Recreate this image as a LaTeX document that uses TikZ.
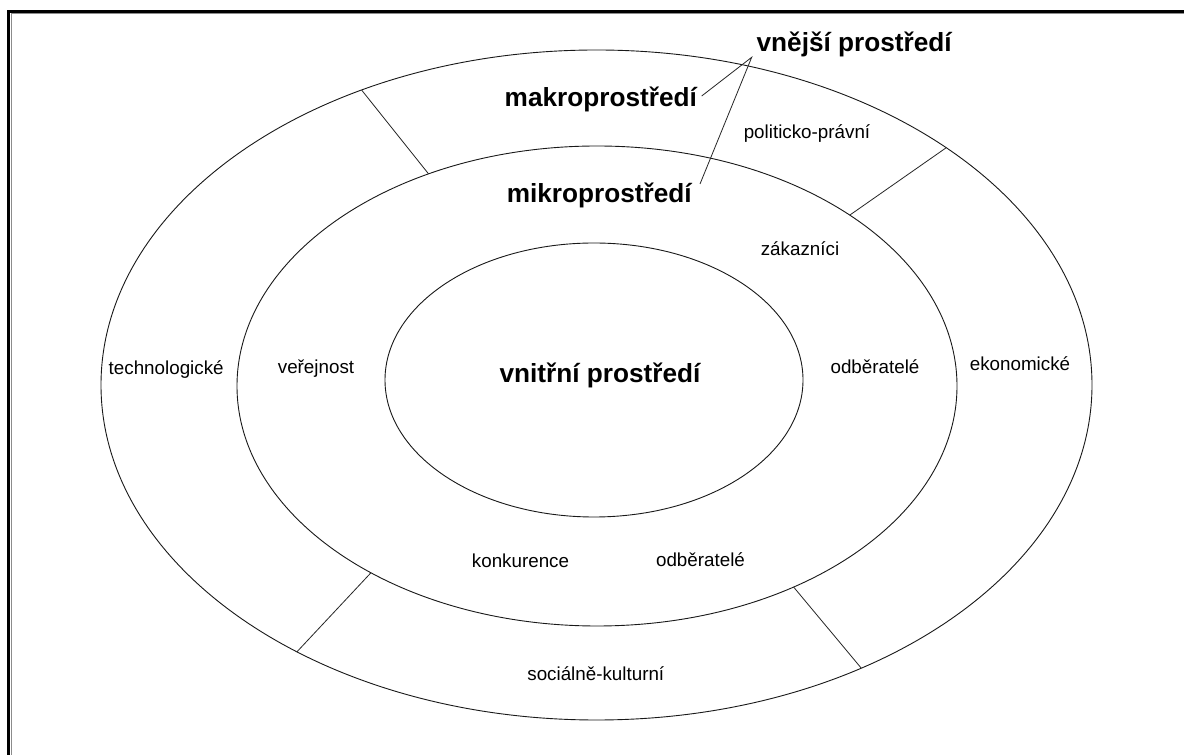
\documentclass[tikz,border=0pt]{standalone}
\usepackage{fontspec}
\setmainfont{Liberation Sans}
\usetikzlibrary{calc}
\begin{document}
\begin{tikzpicture}[x=1pt,y=1pt,
  ring/.style={draw=black!90,line width=0.9pt},
  divider/.style={draw=black!85,line width=0.8pt},
  pointer/.style={draw=black!85,line width=0.8pt},
  biglabel/.style={anchor=base,inner sep=0pt,font=\fontsize{26.2}{30}\selectfont\bfseries},
  smalllabel/.style={anchor=base,inner sep=0pt,font=\fontsize{18.8}{22}\selectfont}]
\useasboundingbox (0,0) rectangle (1184,755);
\fill[white] (0,0) rectangle (1184,755);

% frame along the left and top edges
\draw[black,line width=3.3pt] (8.65,0) -- (8.65,743.65) -- (1184,743.65);
\draw[black!45,line width=0.7pt] (10.9,0) -- (10.9,741.7) -- (1184,741.7);

% centres of the three rings
\coordinate (co) at (596.5,370);
\coordinate (cm) at (597,369);
\coordinate (ci) at (594,375);

% rings
\draw[ring] (co) ellipse [x radius=495.5, y radius=335];
\draw[ring] (cm) ellipse [x radius=360, y radius=240];
\draw[ring] (ci) ellipse [x radius=209, y radius=137];

% sector dividers of the outer ring
\coordinate (o1) at ($(co)+(118.3:495.5 and 335)$);
\coordinate (m1) at ($(cm)+(117.9:360 and 240)$);
\coordinate (o2) at ($(co)+(45.1:495.5 and 335)$);
\coordinate (m2) at ($(cm)+(45.4:360 and 240)$);
\coordinate (o3) at ($(co)+(232.8:495.5 and 335)$);
\coordinate (m3) at ($(cm)+(231.1:360 and 240)$);
\coordinate (o4) at ($(co)+(302.3:495.5 and 335)$);
\coordinate (m4) at ($(cm)+(303.1:360 and 240)$);
\draw[divider] (o1) -- (m1);
\draw[divider] (o2) -- (m2);
\draw[divider] (o3) -- (m3);
\draw[divider] (o4) -- (m4);

% headings
\node[biglabel] (vnejsi) at (854.2,703.3) {vnější prostředí};
\node[biglabel] (makro) at (600.8,648) {makroprostředí};
\node[biglabel] (mikro) at (599.2,552.3) {mikroprostředí};
\node[biglabel] (vnitrni) at (600,372.3) {vnitřní prostředí};

% pointer lines from the outer heading
\coordinate (apex) at (751.7,697.7);
\coordinate (pmakro) at (701.7,659);
\coordinate (pmikro) at (700,571);
\draw[pointer] (pmakro) -- (apex) -- (pmikro);

% macro-environment sectors
\node[smalllabel] (polit) at (807,616) {politicko-právní};
\node[smalllabel] (tech) at (166.2,380) {technologické};
\node[smalllabel] (ekon) at (1020,384) {ekonomické};
\node[smalllabel] (soc) at (595.8,74) {sociálně-kulturní};

% micro-environment items
\node[smalllabel] (zak) at (800,499) {zákazníci};
\node[smalllabel] (ver) at (316,381) {veřejnost};
\node[smalllabel] (odb1) at (875,381) {odběratelé};
\node[smalllabel] (konk) at (520.5,187.7) {konkurence};
\node[smalllabel] (odb2) at (700.5,188) {odběratelé};
\end{tikzpicture}
\end{document}
